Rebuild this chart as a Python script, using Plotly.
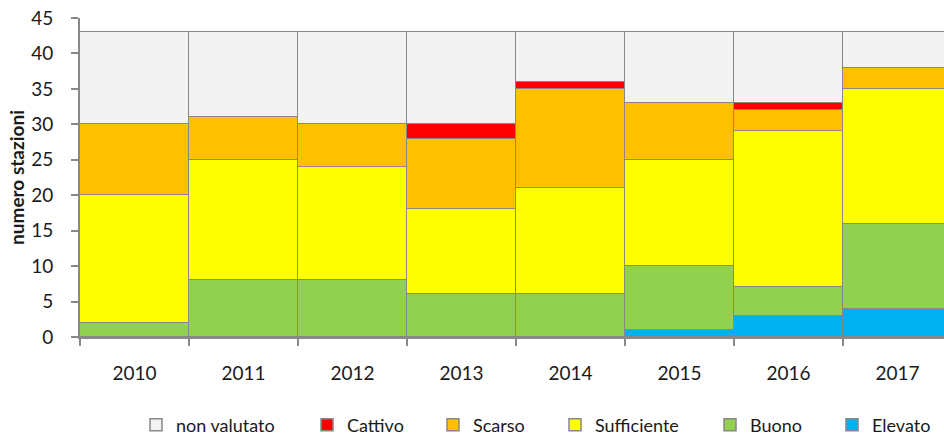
import plotly.graph_objects as go

years = ["2010", "2011", "2012", "2013", "2014", "2015", "2016", "2017"]

# stations per quality class, stacked bottom to top
elevato = [0, 0, 0, 0, 0, 1, 3, 4]
buono = [2, 8, 8, 6, 6, 9, 4, 12]
sufficiente = [18, 17, 16, 12, 15, 15, 22, 19]
scarso = [10, 6, 6, 10, 14, 8, 3, 3]
cattivo = [0, 0, 0, 2, 1, 0, 1, 0]
non_valutato = [13, 12, 13, 13, 7, 10, 10, 5]

series = [
    ("Elevato", elevato, "#00B0F0"),
    ("Buono", buono, "#92D050"),
    ("Sufficiente", sufficiente, "#FFFF00"),
    ("Scarso", scarso, "#FFC000"),
    ("Cattivo", cattivo, "#FF0000"),
    ("non valutato", non_valutato, "#F2F2F2"),
]

# legend entry positions in pixels (plot area starts at x=80, 864 px wide)
legend_px = {
    "non valutato": 160, "Cattivo": 331, "Scarso": 457,
    "Sufficiente": 579, "Buono": 734, "Elevato": 856,
}

FONT = "Lato, 'Open Sans', sans-serif"
GRAY = "#888888"
TEXT = "#1a1a1a"

fig = go.Figure()
layout_legends = {}
for i, (name, vals, color) in enumerate(series):
    lname = f"legend{i + 2}"
    fig.add_trace(go.Bar(
        x=years, y=vals, name=name,
        marker=dict(color=color, line=dict(color=GRAY, width=1.5)),
        legend=lname,
    ))
    px = legend_px[name]
    layout_legends[lname] = dict(
        x=(px - 80 - 24) / 864, y=-0.276, xanchor="left", yanchor="middle",
        orientation="h", font=dict(family=FONT, size=18, color=TEXT),
        bgcolor="rgba(0,0,0,0)", itemwidth=30,
    )

fig.update_layout(
    barmode="stack",
    bargap=0,
    width=944, height=435,
    margin=dict(l=80, r=0, t=18, b=98, autoexpand=False),
    paper_bgcolor="white", plot_bgcolor="white",
    font=dict(family=FONT, size=19, color=TEXT),
    showlegend=True,
    xaxis=dict(
        type="category", range=[-0.5, 7.427],
        showline=True, linecolor=GRAY, linewidth=2,
        ticks="outside", tickson="boundaries", ticklen=7, tickcolor=GRAY, tickwidth=2,
        tickfont=dict(size=19), showgrid=False, ticklabelstandoff=18,
    ),
    yaxis=dict(
        range=[0, 45], dtick=5,
        showline=True, linecolor=GRAY, linewidth=2,
        ticks="outside", ticklen=7, tickcolor=GRAY, tickwidth=2,
        showgrid=True, gridcolor=GRAY, gridwidth=2,
        tickfont=dict(size=19), ticklabelstandoff=14,
        title=dict(text="<b>numero stazioni</b>", font=dict(size=19), standoff=2),
        zeroline=False,
    ),
    **layout_legends,
)

fig.write_html("out.html")
